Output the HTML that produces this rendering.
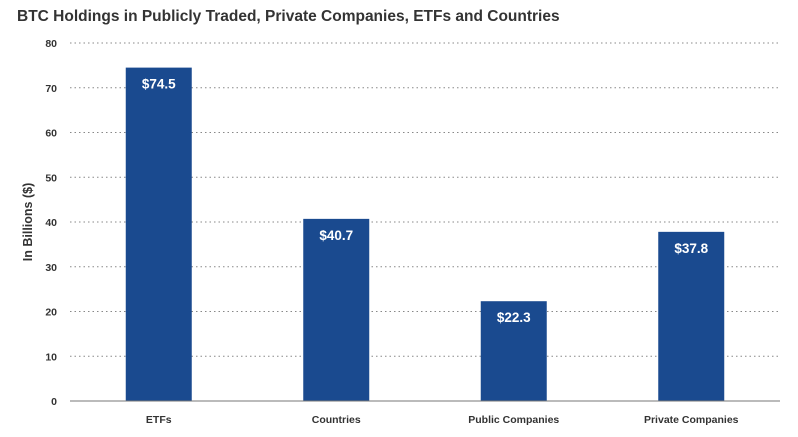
<!DOCTYPE html>
<html><head><meta charset="utf-8"><style>
body{margin:0;background:#fff;}
svg{display:block;font-family:"Liberation Sans",sans-serif;}
</style></head><body>
<svg id="c" width="798" height="437">
<text x="17" y="21" font-size="15.5" font-weight="bold" fill="#333">BTC Holdings in Publicly Traded, Private Companies, ETFs and Countries</text>
<text transform="translate(32,222) rotate(-90)" text-anchor="middle" font-size="12.5" font-weight="bold" fill="#333">In Billions ($)</text>
</svg>
<script>
const categories=["ETFs","Countries","Public Companies","Private Companies"];
const values=[74.5,40.7,22.3,37.8];
const labels=["$74.5","$40.7","$22.3","$37.8"];
const ticks=[0,10,20,30,40,50,60,70,80];
const svg=document.getElementById('c');
const NS='http://www.w3.org/2000/svg';
const x0=70,x1=780,yBase=401,yTop=43,maxV=80;
const y=v=>yBase-(v/maxV)*(yBase-yTop);
const band=(x1-x0)/categories.length;
const bw=66;
function mk(t,a){const e=document.createElementNS(NS,t);for(const k in a)e.setAttribute(k,a[k]);svg.appendChild(e);return e;}
ticks.forEach(t=>{
  if(t>0){const l=mk('line',{x1:x0,x2:x1,y1:y(t),y2:y(t),stroke:'#888','stroke-width':1,'stroke-dasharray':'1.5 3'});
  
  }
  const tx=mk('text',{x:57,y:y(t)+4,'text-anchor':'end','font-size':10.5,'font-weight':'bold',fill:'#333'});
  tx.textContent=t;
  
  
});
categories.forEach((c,i)=>{
  const cx=x0+band*(i+0.5);
  const r=mk('rect',{x:cx-bw/2,y:y(values[i]),width:bw,height:yBase-y(values[i]),fill:'#1a4a8f'});
  
  
  const v=mk('text',{x:cx,y:y(values[i])+21,'text-anchor':'middle','font-size':13.5,'font-weight':'bold',fill:'#fff'});
  v.textContent=labels[i];
  
  
  const t=mk('text',{x:cx,y:423,'text-anchor':'middle','font-size':10.5,'font-weight':'bold',fill:'#333'});
  t.textContent=c;
  
  
});
const b=mk('line',{x1:x0,x2:x1,y1:yBase,y2:yBase,stroke:'#777','stroke-width':1});


</script>
</body></html>
